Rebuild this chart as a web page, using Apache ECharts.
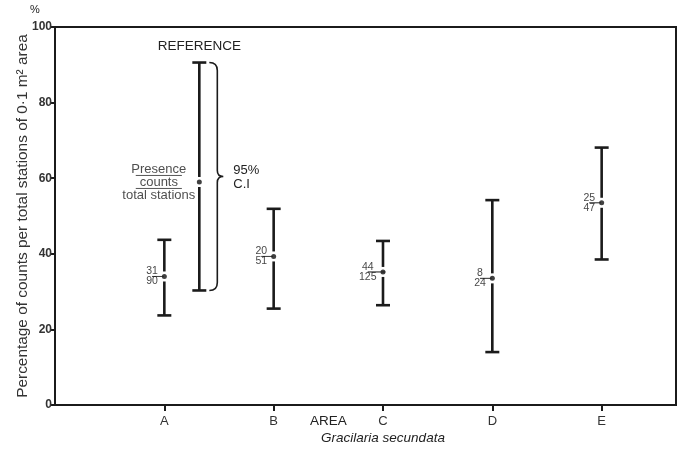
<!DOCTYPE html>
<html>
<head>
<meta charset="utf-8">
<script src="https://cdn.jsdelivr.net/npm/echarts@6/dist/echarts.min.js"></script>
<style>html,body{margin:0;padding:0;background:#fff}#c{width:681px;height:456px}</style>
</head>
<body>
<div id="c"></div>
<script>
// ---- data ----
const categories = ['A', 'B', 'C', 'D', 'E'];
const presenceCounts = [31, 20, 44, 8, 25];
const totalStations = [90, 51, 125, 24, 47];
const percentValues = [34.0, 39.3, 35.2, 33.5, 53.5];
const ciLow = [23.7, 25.5, 26.4, 14.0, 38.5];
const ciHigh = [43.7, 51.9, 43.4, 54.2, 68.1];
const referenceX = [1.32];
const referenceValue = [59.0];
const referenceLow = [30.3];
const referenceHigh = [90.6];
const yTicks = [0, 20, 40, 60, 80, 100];

const INK = '#1b1b1b';
const FONT = 'Liberation Sans, Arial, sans-serif';

const barData = categories.map((c, i) => [i + 1, ciLow[i], ciHigh[i], percentValues[i]]);
barData.push([referenceX[0], referenceLow[0], referenceHigh[0], referenceValue[0]]);
const pointData = categories.map((c, i) => [i + 1, percentValues[i]]);
const refPoint = [[referenceX[0], referenceValue[0]]];

function renderBar(params, api) {
  const x = api.value(0);
  const lo = api.coord([x, api.value(1)]);
  const hi = api.coord([x, api.value(2)]);
  const mid = api.coord([x, api.value(3)]);
  const h = 7, g = 5;
  const st = { stroke: INK, lineWidth: 2.6 };
  return {
    type: 'group',
    children: [
      { type: 'line', shape: { x1: lo[0], y1: lo[1], x2: mid[0], y2: mid[1] + g }, style: st },
      { type: 'line', shape: { x1: mid[0], y1: mid[1] - g, x2: hi[0], y2: hi[1] }, style: st },
      { type: 'line', shape: { x1: hi[0] - h, y1: hi[1], x2: hi[0] + h, y2: hi[1] }, style: st },
      { type: 'line', shape: { x1: lo[0] - h, y1: lo[1], x2: lo[0] + h, y2: lo[1] }, style: st }
    ]
  };
}

function renderBrace(params, api) {
  const x = api.value(0);
  const top = api.coord([x, api.value(1)]);
  const bot = api.coord([x, api.value(2)]);
  const x0 = top[0] + 10, xl = x0 + 8, tip = x0 + 14;
  const y1 = top[1], y2 = bot[1], ym = (y1 + y2) / 2;
  const d = `M${x0} ${y1} Q${xl} ${y1} ${xl} ${y1 + 8} L${xl} ${ym - 6} Q${xl} ${ym} ${tip} ${ym} Q${xl} ${ym} ${xl} ${ym + 6} L${xl} ${y2 - 8} Q${xl} ${y2} ${x0} ${y2}`;
  return {
    type: 'group',
    children: [
      { type: 'path', shape: { pathData: d }, style: { stroke: INK, lineWidth: 1.6, fill: null } },
      { type: 'text', x: tip + 10, y: ym - 6, style: { text: '95%', fill: '#222', font: '13px ' + FONT, align: 'left', verticalAlign: 'middle' } },
      { type: 'text', x: tip + 10, y: ym + 8, style: { text: 'C.I', fill: '#222', font: '13px ' + FONT, align: 'left', verticalAlign: 'middle' } },
      { type: 'text', x: top[0], y: y1 - 16, style: { text: 'REFERENCE', fill: '#222', font: '13.5px ' + FONT, align: 'center', verticalAlign: 'middle' } }
    ]
  };
}

function renderAxisText(params, api) {
  const area = api.coord([2.5, 0]);
  const species = api.coord([3, 0]);
  const corner = api.coord([0, 100]);
  return {
    type: 'group',
    children: [
      { type: 'text', x: area[0], y: area[1] + 16, style: { text: 'AREA', fill: '#222', font: '13.5px ' + FONT, align: 'center', verticalAlign: 'middle' } },
      { type: 'text', x: species[0], y: species[1] + 33, style: { text: 'Gracilaria secundata', fill: '#222', font: 'italic 13.5px ' + FONT, align: 'center', verticalAlign: 'middle' } },
      { type: 'text', x: corner[0] - 20, y: corner[1] - 17, style: { text: '%', fill: '#222', font: '11px ' + FONT, align: 'center', verticalAlign: 'middle' } }
    ]
  };
}

const chart = echarts.init(document.getElementById('c'));
chart.setOption({
  backgroundColor: '#ffffff',
  animation: false,
  grid: { left: 55, right: 5, top: 27, bottom: 51, show: true, borderColor: INK, borderWidth: 2, containLabel: false, outerBoundsMode: 'none' },
  xAxis: {
    type: 'value', min: 0, max: 5.68, interval: 1,
    axisLine: { show: true, lineStyle: { color: INK, width: 2 } },
    axisTick: { show: true, inside: false, length: 6, customValues: [1, 2, 3, 4, 5], lineStyle: { color: INK, width: 2 } },
    axisLabel: { margin: 10, color: '#333', fontSize: 13, fontFamily: FONT, customValues: [1, 2, 3, 4, 5],
      formatter: v => (Number.isInteger(v) && v >= 1 && v <= categories.length) ? categories[v - 1] : '' },
    splitLine: { show: false }
  },
  yAxis: {
    type: 'value', min: yTicks[0], max: yTicks[yTicks.length - 1], interval: yTicks[1] - yTicks[0],
    name: 'Percentage of counts per total stations of 0·1 m² area',
    nameLocation: 'middle', nameGap: 25, nameMoveOverlap: false,
    nameTextStyle: { color: '#333', fontSize: 15.4, fontFamily: FONT },
    axisLine: { show: true, lineStyle: { color: INK, width: 2 } },
    axisTick: { show: true, length: 5, lineStyle: { color: INK, width: 2 } },
    axisLabel: { margin: 3, color: '#333', fontSize: 12, fontWeight: 'bold', fontFamily: FONT },
    splitLine: { show: false }
  },
  series: [
    { type: 'custom', name: 'ci', data: barData, renderItem: renderBar, z: 2, clip: false, silent: true },
    { type: 'custom', name: 'brace', data: [[referenceX[0], referenceHigh[0], referenceLow[0]]], renderItem: renderBrace, z: 2, clip: false, silent: true },
    { type: 'custom', name: 'axisText', data: [[0, 0]], renderItem: renderAxisText, z: 2, clip: false, silent: true },
    {
      type: 'scatter', name: 'points', data: pointData, symbolSize: 5, itemStyle: { color: '#111' }, z: 4, silent: true,
      label: {
        show: true, position: 'left', distance: 4,
        formatter: p => '{n|' + presenceCounts[p.dataIndex] + '}\n{hr|}\n{d|' + totalStations[p.dataIndex] + '}',
        rich: {
          n: { fontSize: 10.5, lineHeight: 10, color: '#111', fontFamily: FONT, align: 'center' },
          hr: { width: '100%', height: 0, borderWidth: 0.8, borderColor: '#222', align: 'center' },
          d: { fontSize: 10.5, lineHeight: 10, color: '#111', fontFamily: FONT, align: 'center' }
        }
      }
    },
    {
      type: 'scatter', name: 'reference', data: refPoint, symbolSize: 5, itemStyle: { color: '#111' }, z: 4, silent: true,
      label: {
        show: true, position: 'left', distance: 38, align: 'center',
        formatter: '{p|Presence}\n{hr|}\n{c|counts}\n{hr|}\n{t|total stations}',
        rich: {
          p: { fontSize: 13, lineHeight: 13, color: '#222', fontFamily: FONT, align: 'center' },
          hr: { width: 46, height: 0, borderWidth: 0.7, borderColor: '#333', align: 'center' },
          c: { fontSize: 13, lineHeight: 13, color: '#222', fontFamily: FONT, align: 'center' },
          t: { fontSize: 13, lineHeight: 13, color: '#222', fontFamily: FONT, align: 'center' }
        }
      }
    }
  ]
});
</script>
</body>
</html>
